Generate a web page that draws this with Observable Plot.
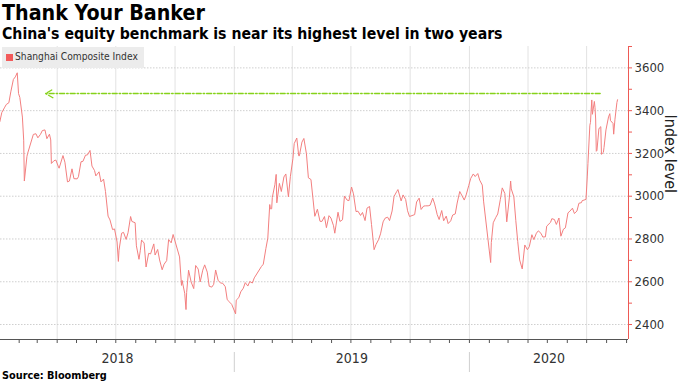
<!DOCTYPE html>
<html><head><meta charset="utf-8">
<script src="https://cdn.jsdelivr.net/npm/d3@7"></script>
<script src="https://cdn.jsdelivr.net/npm/@observablehq/plot@0.6"></script>
<style>
html,body{margin:0;padding:0;background:#fff;}
body{width:680px;height:382px;overflow:hidden;position:relative;font-family:"DejaVu Sans Condensed","DejaVu Sans",sans-serif;}
.t{position:absolute;white-space:nowrap;display:inline-block;}
#title{left:2px;top:1px;font-weight:700;font-size:21px;line-height:24px;color:#000;}
#subtitle{left:2px;top:24px;font-weight:700;font-size:15.5px;line-height:19px;color:#000;}
#chart{position:absolute;left:0;top:44px;}
#legend{position:absolute;left:2px;top:47px;width:142px;height:21px;background:#ececec;}
#legend .sw{position:absolute;left:4px;top:7px;width:7px;height:7px;background:#f25a5a;}
#legend .lab{left:13px;top:3px;font-size:11.5px;line-height:14px;color:#333;}
#source{left:2px;top:369px;font-weight:700;font-size:11.5px;line-height:13px;color:#000;}
</style></head>
<body>
<div id="title" class="t">Thank Your Banker</div>
<div id="subtitle" class="t">China's equity benchmark is near its highest level in two years</div>
<div id="chart"></div>
<div id="legend"><div class="sw"></div><div class="lab t">Shanghai Composite Index</div></div>
<div id="source" class="t">Source: Bloomberg</div>
<script>
// ---- data ----
const seriesName = "Shanghai Composite Index";
const dates = [
"2018-01-02","2018-01-05","2018-01-09","2018-01-12","2018-01-16","2018-01-19","2018-01-23","2018-01-26","2018-01-29","2018-01-31",
"2018-02-02","2018-02-06","2018-02-08","2018-02-09","2018-02-13","2018-02-14","2018-02-23","2018-02-27",
"2018-03-02","2018-03-06","2018-03-09","2018-03-13","2018-03-16","2018-03-20","2018-03-22","2018-03-23","2018-03-27","2018-03-30",
"2018-04-03","2018-04-04","2018-04-10","2018-04-13","2018-04-17","2018-04-20","2018-04-24","2018-04-27",
"2018-05-02","2018-05-04","2018-05-08","2018-05-11","2018-05-15","2018-05-18","2018-05-22","2018-05-25","2018-05-29","2018-05-31",
"2018-06-05","2018-06-08","2018-06-12","2018-06-15","2018-06-19","2018-06-22","2018-06-26","2018-06-29",
"2018-07-03","2018-07-05","2018-07-06","2018-07-10","2018-07-13","2018-07-17","2018-07-20","2018-07-24","2018-07-26","2018-07-31",
"2018-08-02","2018-08-06","2018-08-08","2018-08-10","2018-08-14","2018-08-17","2018-08-21","2018-08-24","2018-08-29","2018-08-31",
"2018-09-04","2018-09-07","2018-09-11","2018-09-14","2018-09-18","2018-09-21","2018-09-25","2018-09-28",
"2018-10-08","2018-10-11","2018-10-12","2018-10-16","2018-10-18","2018-10-19","2018-10-22","2018-10-26","2018-10-30",
"2018-11-02","2018-11-06","2018-11-09","2018-11-13","2018-11-16","2018-11-20","2018-11-23","2018-11-27","2018-11-30",
"2018-12-03","2018-12-07","2018-12-11","2018-12-14","2018-12-18","2018-12-21","2018-12-25","2018-12-28",
"2019-01-03","2019-01-04","2019-01-08","2019-01-11","2019-01-15","2019-01-18","2019-01-22","2019-01-25","2019-01-29","2019-02-01",
"2019-02-12","2019-02-15","2019-02-19","2019-02-22","2019-02-25","2019-02-26","2019-02-28",
"2019-03-01","2019-03-05","2019-03-07","2019-03-08","2019-03-12","2019-03-15","2019-03-19","2019-03-22","2019-03-26","2019-03-29",
"2019-04-02","2019-04-04","2019-04-08","2019-04-11","2019-04-12","2019-04-16","2019-04-19","2019-04-23","2019-04-26","2019-04-30",
"2019-05-06","2019-05-10","2019-05-14","2019-05-17","2019-05-21","2019-05-24","2019-05-28","2019-05-31",
"2019-06-04","2019-06-06","2019-06-11","2019-06-14","2019-06-18","2019-06-21","2019-06-25","2019-06-28",
"2019-07-02","2019-07-05","2019-07-09","2019-07-12","2019-07-16","2019-07-19","2019-07-23","2019-07-26","2019-07-30","2019-08-02",
"2019-08-06","2019-08-09","2019-08-13","2019-08-16","2019-08-20","2019-08-23","2019-08-27","2019-08-30",
"2019-09-03","2019-09-06","2019-09-10","2019-09-12","2019-09-17","2019-09-20","2019-09-24","2019-09-27","2019-09-30",
"2019-10-08","2019-10-11","2019-10-15","2019-10-18","2019-10-22","2019-10-25","2019-10-29","2019-11-01",
"2019-11-05","2019-11-08","2019-11-12","2019-11-15","2019-11-19","2019-11-22","2019-11-26","2019-11-29",
"2019-12-03","2019-12-06","2019-12-10","2019-12-13","2019-12-17","2019-12-20","2019-12-24","2019-12-27","2019-12-31",
"2020-01-03","2020-01-07","2020-01-10","2020-01-14","2020-01-17","2020-01-21","2020-01-23",
"2020-02-03","2020-02-04","2020-02-07","2020-02-11","2020-02-14","2020-02-18","2020-02-21","2020-02-25","2020-02-28",
"2020-03-03","2020-03-05","2020-03-06","2020-03-10","2020-03-13","2020-03-16","2020-03-19","2020-03-23","2020-03-27","2020-03-31",
"2020-04-03","2020-04-07","2020-04-10","2020-04-14","2020-04-17","2020-04-21","2020-04-24","2020-04-28","2020-04-30",
"2020-05-06","2020-05-08","2020-05-12","2020-05-15","2020-05-19","2020-05-22","2020-05-26","2020-05-29",
"2020-06-02","2020-06-05","2020-06-09","2020-06-12","2020-06-16","2020-06-19","2020-06-23","2020-06-24","2020-06-30",
"2020-07-02","2020-07-03","2020-07-06","2020-07-07","2020-07-08","2020-07-09","2020-07-10","2020-07-13","2020-07-14","2020-07-15",
"2020-07-16","2020-07-17","2020-07-20","2020-07-21","2020-07-23","2020-07-24","2020-07-27","2020-07-28","2020-07-31",
"2020-08-04","2020-08-06","2020-08-07","2020-08-11","2020-08-12","2020-08-14","2020-08-17","2020-08-18"
];
const values = [
3349,3391,3413,3429,3437,3488,3546,3558,3577,3480,
3462,3370,3262,3071,3185,3199,3289,3292,
3273,3289,3307,3310,3269,3290,3263,3153,3166,3169,
3137,3131,3190,3159,3067,3071,3128,3082,
3081,3091,3161,3163,3192,3193,3214,3141,3120,3095,
3114,3067,3080,3022,2907,2889,2844,2847,
2786,2695,2747,2827,2831,2798,2829,2905,2882,2876,
2768,2705,2745,2795,2781,2669,2733,2730,2777,2725,
2751,2702,2656,2682,2699,2797,2782,2821,
2716,2583,2606,2546,2470,2550,2654,2599,2568,
2676,2659,2599,2654,2679,2645,2579,2575,2588,
2655,2605,2594,2593,2577,2516,2504,2494,
2450,2514,2526,2553,2570,2596,2580,2601,2594,2618,
2671,2682,2755,2804,2961,2941,2941,
2994,3054,3102,2969,3060,3022,3090,3104,2997,3091,
3176,3246,3272,3189,3189,3253,3270,3198,3086,3078,
2906,2939,2883,2882,2905,2853,2909,2898,
2862,2827,2925,2882,2890,3001,2982,2979,
3043,3011,2928,2930,2910,2924,2886,2944,2952,2868,
2750,2774,2797,2824,2880,2897,2902,2886,
2931,2999,3021,3031,2978,3006,2985,2932,2905,
2914,2973,2991,2938,2954,2955,2955,2958,
2991,2964,2914,2891,2933,2885,2907,2872,
2885,2912,2917,2968,3022,3005,2982,3006,3050,
3083,3104,3092,3106,3075,3052,2977,
2690,2783,2876,2901,2917,2984,3039,3013,2880,
2992,3071,3034,2997,2887,2789,2702,2660,2772,2750,
2764,2820,2797,2827,2838,2827,2809,2810,2860,
2878,2895,2891,2868,2898,2813,2846,2852,
2922,2930,2944,2919,2931,2967,2970,2979,2985,
3090,3152,3332,3345,3403,3450,3383,3443,3415,3361,
3210,3214,3314,3320,3325,3196,3205,3228,3310,
3371,3386,3354,3340,3290,3360,3438,3451
];
const yTickValues = [2400, 2600, 2800, 3000, 3200, 3400, 3600];
const yearLabels = ["2018", "2019", "2020"];
const yAxisTitle = "Index level";
// annotation: dashed arrow pointing back to the early-2018 level
const arrowLevel = [3480];
const arrowFrom = ["2020-07-22"];
const arrowTo = ["2018-03-14"];

// ---- build ----
const parse = d3.utcParse("%Y-%m-%d");
const series = dates.map((d, i) => ({date: parse(d), value: values[i]}));
const xDomain = [parse("2018-01-03"), parse("2020-09-04")];
const yDomain = [2330, 3700];
const red = "#ee5a55";
const lineColor = "#f37f7f";
const FONT = "'DejaVu Sans Condensed', 'DejaVu Sans', sans-serif";

const quarters = d3.utcMonth.every(3).range(xDomain[0], xDomain[1]);
const months = d3.utcMonth.range(xDomain[0], xDomain[1]);
const yearStarts = yearLabels.map(y => parse(y + "-01-01"));
const separators = yearStarts.filter(d => d > xDomain[0] && d < xDomain[1]);
const yearMarks = yearLabels.map((y, i) => {
  const a = Math.max(+yearStarts[i], +xDomain[0]);
  const b = Math.min(+parse((+y + 1) + "-01-01"), +xDomain[1]);
  return {date: new Date((a + b) / 2), label: y};
});
const arrows = arrowLevel.map((v, i) => ({x1: parse(arrowFrom[i]), x2: parse(arrowTo[i]), y: v}));

const W = 680, mTop = 2, mBottom = 36, frameH = 293;
const chart = Plot.plot({
  width: W,
  height: mTop + frameH + mBottom,
  marginLeft: 0,
  marginRight: 52,
  marginTop: mTop,
  marginBottom: mBottom,
  style: {background: "transparent", fontFamily: FONT, overflow: "visible"},
  x: {type: "utc", domain: xDomain},
  y: {domain: yDomain},
  marks: [
    Plot.gridX({ticks: quarters, stroke: "#e2e2e2", strokeOpacity: 1}),
    Plot.gridY({ticks: yTickValues, stroke: "#cfcfcf", strokeOpacity: 1, strokeDasharray: "1.5,1.5"}),
    Plot.ruleY([yDomain[0]], {stroke: "#555", strokeWidth: 1}),
    Plot.axisX({ticks: months, tickSize: 4, tickFormat: () => "", stroke: "#555", label: null}),
    Plot.ruleX(separators, {stroke: "#cfcfcf", insetTop: 306, insetBottom: -33}),
    Plot.text(yearMarks, {x: "date", text: "label", frameAnchor: "bottom", dy: 23, fontSize: 14, fill: "#333"}),
    Plot.lineY(series, {x: "date", y: "value", stroke: lineColor, strokeWidth: 1}),
    Plot.arrow(arrows, {x1: "x1", x2: "x2", y1: "y", y2: "y", stroke: "#86d21a", strokeWidth: 1.4, strokeDasharray: "5,2,1.5,2", headLength: 9, bend: 0}),
    Plot.ruleX([xDomain[1]], {stroke: red, strokeWidth: 1}),
    Plot.axisY({anchor: "right", ticks: d3.range(2400, 3701, 100), tickSize: 3, tickFormat: () => "", stroke: red, label: null}),
    Plot.axisY({anchor: "right", ticks: yTickValues, tickSize: 0, tickPadding: 6, tickFormat: d => String(d), fontSize: 13, fill: "#333", label: null}),
    Plot.text([yAxisTitle], {frameAnchor: "right", dx: 42, rotate: 90, fontSize: 16, fill: "#222"})
  ]
});
document.getElementById("chart").appendChild(chart);

// fit header widths to the reference
function fit(id, target) {
  const el = document.querySelector(id);
  const w = el.getBoundingClientRect().width;
  const fs = parseFloat(getComputedStyle(el).fontSize);
  el.style.fontSize = (fs * target / w) + "px";
}
fit("#title", 203);
fit("#subtitle", 501);
fit("#legend .lab", 123);
fit("#source", 105);
</script>
</body></html>
